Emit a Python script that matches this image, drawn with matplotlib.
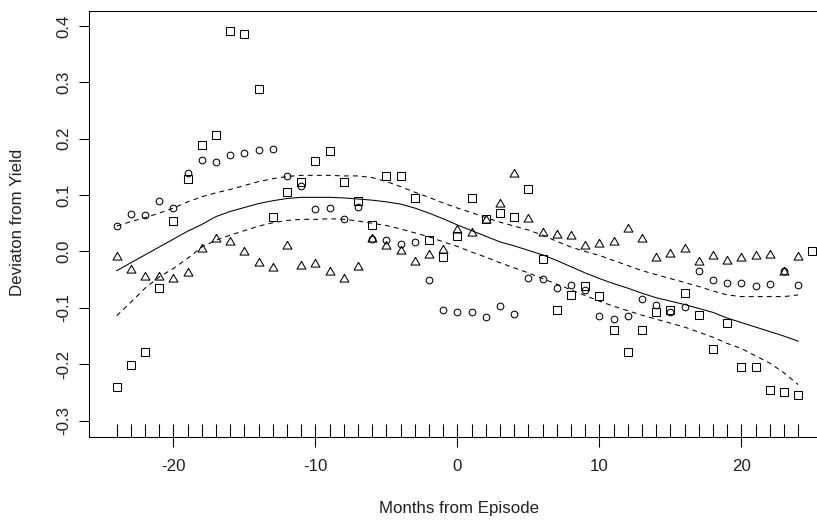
import numpy as np
import matplotlib
matplotlib.use("Agg")
import matplotlib.pyplot as plt

plt.rcParams['font.family'] = ['Liberation Sans', 'DejaVu Sans']
plt.rcParams['lines.scale_dashes'] = False

months = list(range(-24, 25))
square_months = list(range(-24, 26))

squares = [-0.241, -0.201, -0.178, -0.064, 0.054, 0.128, 0.189, 0.206, 0.391, 0.386,
           0.288, 0.062, 0.106, 0.123, 0.160, 0.178, 0.123, 0.090, 0.047, 0.133,
           0.133, 0.095, 0.020, -0.010, 0.027, 0.095, 0.058, 0.069, 0.062, 0.111,
           -0.013, -0.104, -0.078, -0.062, -0.079, -0.140, -0.178, -0.140, -0.107, -0.104,
           -0.073, -0.112, -0.173, -0.126, -0.205, -0.205, -0.245, -0.250, -0.254, 0.001]

circles = [0.045, 0.066, 0.064, 0.090, 0.077, 0.140, 0.163, 0.159, 0.171, 0.174,
           0.180, 0.182, 0.133, 0.116, 0.075, 0.077, 0.058, 0.078, 0.022, 0.020,
           0.013, 0.017, -0.051, -0.104, -0.108, -0.108, -0.116, -0.097, -0.110, -0.047,
           -0.049, -0.064, -0.060, -0.068, -0.114, -0.120, -0.115, -0.085, -0.094, -0.108,
           -0.098, -0.035, -0.050, -0.056, -0.056, -0.062, -0.058, -0.035, -0.060]

triangles = [-0.010, -0.032, -0.046, -0.046, -0.049, -0.038, 0.004, 0.022, 0.017, -0.001,
             -0.020, -0.030, 0.010, -0.025, -0.023, -0.036, -0.049, -0.028, 0.023, 0.009,
             0.000, -0.019, -0.007, 0.003, 0.038, 0.032, 0.055, 0.085, 0.138, 0.058,
             0.032, 0.030, 0.027, 0.009, 0.013, 0.016, 0.039, 0.022, -0.011, -0.005,
             0.005, -0.018, -0.008, -0.017, -0.011, -0.008, -0.007, -0.036, -0.009]

fit = [-0.034, -0.020, -0.006, 0.008, 0.022, 0.036, 0.048, 0.062, 0.071, 0.078,
       0.085, 0.090, 0.094, 0.096, 0.096, 0.096, 0.095, 0.093, 0.091, 0.088,
       0.084, 0.077, 0.068, 0.058, 0.047, 0.037, 0.027, 0.017, 0.010, 0.002,
       -0.006, -0.016, -0.027, -0.038, -0.048, -0.057, -0.065, -0.074, -0.082, -0.088,
       -0.094, -0.101, -0.108, -0.118, -0.126, -0.134, -0.142, -0.150, -0.159]

upper = [0.045, 0.053, 0.060, 0.068, 0.077, 0.088, 0.097, 0.104, 0.110, 0.117,
         0.124, 0.129, 0.133, 0.135, 0.135, 0.135, 0.134, 0.134, 0.131, 0.124,
         0.115, 0.105, 0.096, 0.086, 0.077, 0.069, 0.060, 0.052, 0.045, 0.038,
         0.029, 0.018, 0.008, 0.000, -0.007, -0.016, -0.025, -0.034, -0.041, -0.048,
         -0.055, -0.062, -0.070, -0.077, -0.080, -0.080, -0.080, -0.080, -0.077]

lower = [-0.114, -0.090, -0.065, -0.045, -0.030, -0.012, 0.008, 0.020, 0.029, 0.037,
         0.045, 0.051, 0.055, 0.057, 0.057, 0.058, 0.057, 0.054, 0.050, 0.046,
         0.040, 0.033, 0.026, 0.017, 0.009, -0.001, -0.010, -0.020, -0.029, -0.038,
         -0.048, -0.058, -0.068, -0.078, -0.088, -0.097, -0.105, -0.113, -0.120, -0.127,
         -0.134, -0.143, -0.152, -0.163, -0.172, -0.185, -0.198, -0.215, -0.236]

x_ticks = [-20, -10, 0, 10, 20]
y_ticks = [-0.3, -0.2, -0.1, 0.0, 0.1, 0.2, 0.3, 0.4]
y_tick_labels = ["-0.3", "-0.2", "-0.1", "0.0", "0.1", "0.2", "0.3", "0.4"]

W, H = 817, 522
fig = plt.figure(figsize=(W / 100, H / 100), dpi=100)
left_px, right_px, top_px, bottom_px = 89.3, 817, 11, 436.7
ax = fig.add_axes([left_px / W, 1 - bottom_px / H, (right_px - left_px) / W, (bottom_px - top_px) / H])

ax.set_xlim(-25.93, 25.33)
ax.set_ylim(-0.3284, 0.4264)

lw = 0.75
ax.plot(square_months, squares, linestyle='none', marker='s', ms=5.8,
        mfc='none', mec='black', mew=0.75)
ax.plot(months, circles, linestyle='none', marker='o', ms=4.8,
        mfc='none', mec='black', mew=0.75)
tri = [(0, 1), (-0.866, -0.5), (0.866, -0.5), (0, 1)]
ax.plot(months, triangles, linestyle='none', marker=tri, ms=7.4,
        mfc='none', mec='black', mew=0.75)

ax.plot(months, fit, color='black', lw=lw)
ax.plot(months, upper, color='black', lw=lw, dashes=(3.5, 3.0))
ax.plot(months, lower, color='black', lw=lw, dashes=(3.5, 3.0))

# rug
ax.vlines(months, 0, 13 / (bottom_px - top_px), transform=ax.get_xaxis_transform(),
          color='black', lw=lw)

text_color = '#222222'
ax.set_xticks(x_ticks)
ax.set_xticklabels([str(t) for t in x_ticks])
ax.set_yticks(y_ticks)
ax.set_yticklabels(y_tick_labels, rotation=90, va='center')
ax.tick_params(axis='both', direction='out', length=7.2, width=lw, labelsize=12.2,
               color='black', labelcolor=text_color)
ax.tick_params(axis='x', pad=9)
ax.tick_params(axis='y', pad=6)

for side in ['left', 'bottom', 'top']:
    ax.spines[side].set_linewidth(lw)
ax.spines['right'].set_visible(False)

fig.text(459 / W, 1 - 509 / H, "Months from Episode", ha='center', va='center',
         fontsize=12.2, color=text_color)
fig.text(18 / W, 1 - 222 / H, "Deviaton from Yield", ha='center', va='center',
         rotation=90, fontsize=12.2, color=text_color)

fig.savefig("out.png", dpi=100)
